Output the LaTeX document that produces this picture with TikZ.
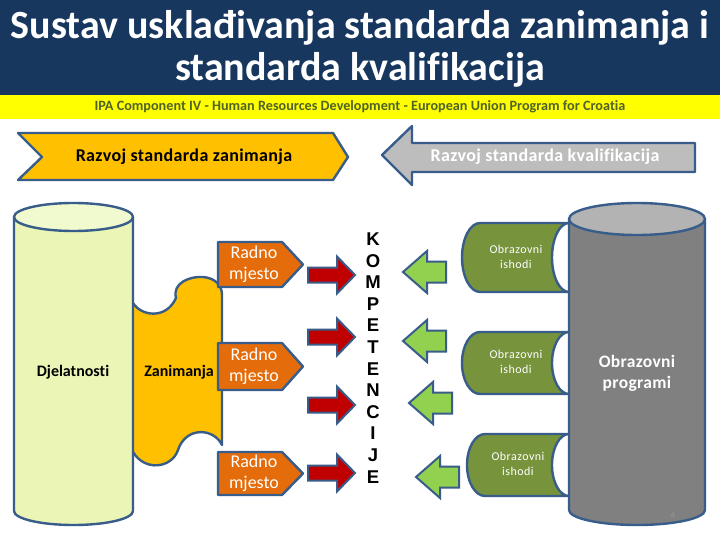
\documentclass[tikz,border=0pt]{standalone}
\usepackage{fontspec}
\setmainfont{Carlito}[Ligatures=NoCommon]
\newfontfamily\arialfont{Liberation Sans}
\definecolor{navy}{HTML}{17375E}
\definecolor{bandyellow}{HTML}{FFFF00}
\definecolor{olivetext}{HTML}{4F6228}
\definecolor{edge}{HTML}{385D8A}
\definecolor{puzzle}{HTML}{FFC000}
\definecolor{radno}{HTML}{E46C0A}
\definecolor{redarrow}{HTML}{C00000}
\definecolor{greenarrow}{HTML}{92D050}
\definecolor{ishodgreen}{HTML}{77933C}
\definecolor{graybody}{HTML}{808080}
\definecolor{graytop}{HTML}{B3B3B3}
\definecolor{grayarrow}{HTML}{BDBDBD}
\definecolor{cylbody}{HTML}{EAF5B6}
\definecolor{cyltop}{HTML}{F1F9CE}
\begin{document}
\begin{tikzpicture}[x=1pt,y=-1pt,
  shapeedge/.style={draw=edge,line width=2.4pt,line join=round},
  arrowedge/.style={draw=edge,line width=2pt,line join=miter},
  radnotext/.style={text=white,font=\fontsize{18}{20.5}\selectfont,align=center,inner sep=0pt},
  ishodtext/.style={text=white,font=\fontsize{12}{15}\selectfont\addfontfeatures{LetterSpace=4},align=center,inner sep=0pt},
  boldlabel/.style={font=\bfseries\fontsize{16}{19}\selectfont,align=center,inner sep=0pt}]
\useasboundingbox (0,0) rectangle (720,540);
\fill[white] (0,0) rectangle (720,540);
% title
\fill[navy] (0,0) rectangle (720,95);
\fill[bandyellow] (0,95) rectangle (720,119);
\node[text=white,font=\bfseries\fontsize{40}{42}\selectfont,align=center,inner sep=0pt] (title) at (360,49) {Sustav usklađivanja standarda zanimanja i\\standarda kvalifikacija};
\node[text=olivetext,font=\bfseries\fontsize{14.2}{15}\selectfont,inner sep=0pt] (band) at (360,107) {IPA Component IV - Human Resources Development - European Union Program for Croatia};
% chevron
\path[shapeedge,fill=puzzle] (18,133) -- (333,133) -- (348,157) -- (333,180) -- (18,180) -- (42,157) -- cycle;
\node[boldlabel,font=\bfseries\fontsize{18}{19}\selectfont\addfontfeatures{LetterSpace=2}] (razvojz) at (184,157) {Razvoj standarda zanimanja};
% gray left arrow
\path[shapeedge,fill=grayarrow] (382,155) -- (412,126) -- (412,143) -- (695,143) -- (695,172) -- (412,172) -- (412,185) -- cycle;
\node[boldlabel,text=white,font=\bfseries\fontsize{18}{19}\selectfont\addfontfeatures{LetterSpace=2}] (razvojk) at (545,157) {Razvoj standarda kvalifikacija};
% puzzle piece
\path[shapeedge,fill=puzzle] (120,303) -- (133,303)
  .. controls (141,316) and (166,320) .. (176,298)
  .. controls (172,283) and (190,276) .. (203,277)
  .. controls (215,278) and (222,285) .. (222,295)
  -- (222,445)
  .. controls (214,428) and (186,426) .. (178,450)
  .. controls (172,468) and (145,472) .. (133,452)
  -- (120,452) -- cycle;
% left cylinder
\path[shapeedge,fill=cylbody] (14,217) -- (14,511) .. controls (14,518.73) and (40.64,525) .. (73.5,525) .. controls (106.36,525) and (133,518.73) .. (133,511) -- (133,217) -- cycle;
\path[shapeedge,fill=cyltop] (73.5,217) ellipse [x radius=59.5pt, y radius=14pt];
\node[boldlabel] (djel) at (73,372) {Djelatnosti};
\node[boldlabel] (zan) at (179,372) {Zanimanja};
% Radno mjesto boxes
\foreach \t/\b/\n in {242/287/1,343/390/2,452/495/3}{
  \pgfmathsetmacro{\m}{(\t+\b)/2}
  \path[shapeedge,fill=radno] (218,\t) -- (282,\t) -- (303,\m) -- (282,\b) -- (218,\b) -- cycle;
  \node[radnotext] (radno\n) at (254,\m) {Radno\\mjesto};
}
% red arrows
\foreach \c in {275,337,405,473}{
  \path[arrowedge,fill=redarrow] (308,\c-7.5) -- (337,\c-7.5) -- (337,\c-18.5) -- (355,\c) -- (337,\c+18.5) -- (337,\c+7.5) -- (308,\c+7.5) -- cycle;
}
% KOMPETENCIJE
\node[font=\arialfont\bfseries\fontsize{18.5}{21.6}\selectfont,align=center,inner sep=0pt] (komp) at (373,358) {K\\O\\M\\P\\E\\T\\E\\N\\C\\I\\J\\E};
% green arrows
\foreach \x/\c in {403/272,403/341,409/403,416/477}{
  \path[arrowedge,fill=greenarrow] (\x,\c) -- (\x+24,\c-21) -- (\x+24,\c-10.5) -- (\x+43,\c-10.5) -- (\x+43,\c+10.5) -- (\x+24,\c+10.5) -- (\x+24,\c+21) -- cycle;
}
% Obrazovni ishodi
\foreach \L/\T/\B/\tx/\n in {462/223/292/516/1,462/332/394/516/2,467/434/496/518/3}{
  \pgfmathsetmacro{\ym}{(\T+\B)/2}
  \pgfmathsetmacro{\ry}{(\B-\T)/2*0.5523}
  \path[shapeedge,fill=ishodgreen] (569,\T) -- (\L+18,\T)
    .. controls (\L+8.06,\T) and (\L,\ym-\ry) .. (\L,\ym)
    .. controls (\L,\ym+\ry) and (\L+8.06,\B) .. (\L+18,\B)
    -- (569,\B)
    .. controls (559.6,\B) and (552,\ym+\ry) .. (552,\ym)
    .. controls (552,\ym-\ry) and (559.6,\T) .. (569,\T) -- cycle;
  \node[ishodtext] (ishod\n) at (\tx,\ym-1) {Obrazovni\\ishodi};
}
% big gray cylinder
\path[shapeedge,fill=graybody] (569,219) -- (569,510) .. controls (569,518.28) and (599.44,525) .. (637,525) .. controls (674.56,525) and (705,518.28) .. (705,510) -- (705,219) -- cycle;
\path[shapeedge,fill=graytop] (637,219) ellipse [x radius=68pt, y radius=16pt];
\node[boldlabel,text=white,font=\bfseries\fontsize{17.5}{21}\selectfont\addfontfeatures{LetterSpace=2}] (prog) at (637,373) {Obrazovni\\programi};
\node[text=gray!85!white,font=\fontsize{10}{12}\selectfont,inner sep=0pt] (page) at (673,515) {4};
\end{tikzpicture}
\end{document}
